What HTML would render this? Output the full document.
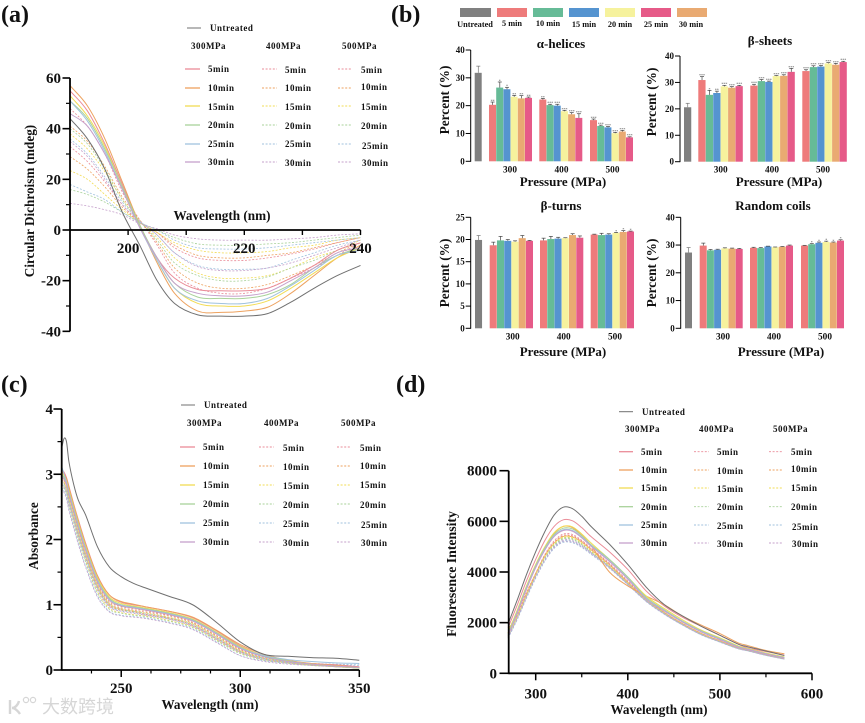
<!DOCTYPE html>
<html lang="en">
<head>
<meta charset="utf-8">
<title>Protein structure figure</title>
<style>
html,body{margin:0;padding:0;background:#fff;width:865px;height:723px;overflow:hidden}
svg{display:block;filter:blur(0.35px)}
text{font-family:"Liberation Serif","Noto Serif CJK SC",serif;font-weight:bold;fill:#111}
.lg{font-size:9px;letter-spacing:.5px}
.at{font-size:13.2px}
.pl{font-size:24px}
.sw{font-size:8.3px}
.ti{font-size:13px;text-anchor:middle}
.xt{font-size:13px;text-anchor:middle}
.yt{font-size:13.3px;text-anchor:middle}
</style>
</head>
<body>
<svg id="figure" xmlns="http://www.w3.org/2000/svg" width="865" height="723" viewBox="0 0 865 723">
<rect width="865" height="723" fill="#fff"/>
<g id="marks"></g>

<text class="pl" x="1" y="22">(a)</text>
<text class="pl" x="391" y="22">(b)</text>
<text class="pl" x="1" y="392">(c)</text>
<text class="pl" x="396" y="392">(d)</text>

<text class="at" text-anchor="middle" x="222" y="220">Wavelength (nm)</text>
<text class="at" text-anchor="middle" transform="translate(34,201) rotate(-90)">Circular Dichroism (mdeg)</text>

<g class="lg">
<text x="210" y="31">Untreated</text>
<text x="191" y="49">300MPa</text>
<text x="266" y="49">400MPa</text>
<text x="342" y="49">500MPa</text>
<text x="208" y="72">5min</text>
<text x="208" y="91">10min</text>
<text x="208" y="110">15min</text>
<text x="208" y="128">20min</text>
<text x="208" y="147">25min</text>
<text x="208" y="165">30min</text>
<text x="285" y="73">5min</text>
<text x="285" y="91">10min</text>
<text x="285" y="110">15min</text>
<text x="285" y="129">20min</text>
<text x="285" y="147">25min</text>
<text x="285" y="166">30min</text>
<text x="361" y="73">5min</text>
<text x="361" y="90">10min</text>
<text x="361" y="110">15min</text>
<text x="361" y="129">20min</text>
<text x="362" y="149">25min</text>
<text x="362" y="166">30min</text>
</g>

<g class="sw" text-anchor="middle">
<text x="475" y="27">Untreated</text>
<text x="512" y="26">5 min</text>
<text x="548" y="26">10 min</text>
<text x="584" y="27">15 min</text>
<text x="620" y="27">20 min</text>
<text x="656" y="27">25 min</text>
<text x="691" y="27">30 min</text>
</g>

<text class="ti" x="561" y="48">α-helices</text>
<text class="ti" x="770" y="45">β-sheets</text>
<text class="ti" x="561" y="210">β-turns</text>
<text class="ti" x="773" y="210">Random coils</text>

<text class="xt" x="563" y="186">Pressure (MPa)</text>
<text class="xt" x="779" y="186">Pressure (MPa)</text>
<text class="xt" x="563" y="356">Pressure (MPa)</text>
<text class="xt" x="781" y="356">Pressure (MPa)</text>
<text class="yt" transform="translate(449,100) rotate(-90)">Percent (%)</text>
<text class="yt" transform="translate(656,102) rotate(-90)">Percent (%)</text>
<text class="yt" transform="translate(449,273) rotate(-90)">Percent (%)</text>
<text class="yt" transform="translate(656,273) rotate(-90)">Percent (%)</text>

<text class="at" text-anchor="middle" x="210" y="709">Wavelength (nm)</text>
<text class="at" text-anchor="middle" transform="translate(38,536) rotate(-90)">Absorbance</text>

<g class="lg">
<text x="204" y="408">Untreated</text>
<text x="187" y="426">300MPa</text>
<text x="264" y="426">400MPa</text>
<text x="341" y="426">500MPa</text>
<text x="203" y="450">5min</text>
<text x="203" y="469">10min</text>
<text x="203" y="488">15min</text>
<text x="203" y="507">20min</text>
<text x="203" y="526">25min</text>
<text x="203" y="545">30min</text>
<text x="283" y="451">5min</text>
<text x="283" y="470">10min</text>
<text x="283" y="489">15min</text>
<text x="283" y="508">20min</text>
<text x="283" y="527">25min</text>
<text x="283" y="546">30min</text>
<text x="360" y="451">5min</text>
<text x="360" y="469">10min</text>
<text x="360" y="488">15min</text>
<text x="360" y="508">20min</text>
<text x="361" y="528">25min</text>
<text x="361" y="546">30min</text>
</g>

<text class="at" text-anchor="middle" x="659" y="714">Wavelength (nm)</text>
<text class="at" style="font-size:13.8px" text-anchor="middle" transform="translate(456,574) rotate(-90)">Fluoresence Intensity</text>

<g class="lg">
<text x="642" y="415">Untreated</text>
<text x="625" y="432">300MPa</text>
<text x="699" y="432">400MPa</text>
<text x="773" y="432">500MPa</text>
<text x="641" y="455">5min</text>
<text x="641" y="473">10min</text>
<text x="641" y="491">15min</text>
<text x="641" y="510">20min</text>
<text x="641" y="528">25min</text>
<text x="641" y="546">30min</text>
<text x="717" y="455">5min</text>
<text x="717" y="474">10min</text>
<text x="717" y="492">15min</text>
<text x="717" y="510">20min</text>
<text x="717" y="529">25min</text>
<text x="717" y="547">30min</text>
<text x="791" y="455">5min</text>
<text x="791" y="472">10min</text>
<text x="791" y="491">15min</text>
<text x="791" y="510">20min</text>
<text x="792" y="530">25min</text>
<text x="792" y="547">30min</text>
</g>

<g>
<path d="M10 700v14M12 708c3 0 6-3 7-7M13 708c3 1 5 3 7 6" fill="none" stroke="#d6d6d6" stroke-width="2.4"/>
<circle cx="26" cy="700" r="2.6" fill="none" stroke="#d6d6d6" stroke-width="1.2"/>
<circle cx="33" cy="700" r="2.6" fill="none" stroke="#d6d6d6" stroke-width="1.2"/>
<text x="42" y="713" font-size="18" style="fill:#d6d6d6;font-family:'Liberation Sans','Noto Sans CJK SC',sans-serif;font-weight:normal">大数跨境</text>
</g>
</svg>

<script>
/* ---------- Panel (a): circular dichroism ---------- */
const cdWavelengths=[190,193,196,199,202,205,208,212,216,220,224,228,232,236,240];
const cdUntreated=[44,36,24,7,-6,-20,-29,-33.5,-34,-34,-33,-28.5,-23,-18,-14];
const cd300=[
[55,47,34,18,2,-11,-19,-23.5,-24,-24,-23,-19,-14,-8,-5],
[57,49,36,19,2,-13,-25,-32,-32.5,-32,-30.5,-25,-18,-11,-6],
[53,45,33,17,2,-12,-23,-29,-30,-30,-28,-23,-17,-11,-7],
[51,44,32,17,2,-11,-21,-26.5,-27,-27,-25.5,-21.5,-15,-10,-7],
[51,43,31,16,1,-12,-23,-28,-29,-29,-27,-22,-16,-10,-8],
[46,41,30,16,1,-11,-21,-25,-26,-26,-24.5,-20,-15,-9,-7]];
const cd400=[
[48,41,30,15,4,-6,-17,-23,-25,-25,-23,-19,-15,-10,-5],
[41,35,25,13,4,-5,-15,-21,-23,-23,-21.5,-18,-14,-9,-5],
[38,32,23,12,3.5,-3,-11,-17,-19,-19,-18,-15,-11,-8,-4],
[40,34,24,12,3.5,-4,-13,-18,-20,-20,-18.5,-15,-12,-8,-5],
[36,30,21,11,3.5,-2,-9,-14,-15.5,-15.5,-15,-12,-9,-6,-4],
[35,29,20,10,3.5,-2,-9,-14.5,-16,-16,-15,-13,-10,-7,-4]];
const cd500=[
[33,27,19,10,3,-1,-7,-11,-12,-12,-11,-9.5,-7.5,-5,-3],
[29,24,17,9,3,-1,-6,-10,-11,-11,-10,-9,-7,-5,-3],
[23.5,20,14,8,3,-1,-5,-8,-9,-9,-8.5,-7,-6,-4,-3],
[16,14,11,7,3,0,-3,-5.5,-6,-6,-5.5,-5,-4,-3,-2],
[18,15,12,7,3,0,-4,-7,-7.5,-7.5,-7,-6,-5,-4,-3],
[10.5,9.5,8,6,2.5,0.5,-2,-3.5,-4,-4,-4,-3.5,-3,-2,-1.5]];
const cdYTicks=[60,40,20,0,-20,-40];
const cdYMinor=[50,30,10,-10,-30];
const cdXTicks=[200,210,220,230,240];
const cdXLabels=[200,220,240];

/* ---------- Panel (c): absorbance ---------- */
const absWavelengths=[225,226,227,228,230,232,235,240,245,250,255,260,270,280,290,300,310,320,330,340,350];
const absUntreated=[3.4,3.55,3.5,3.2,2.85,2.6,2.38,1.89,1.58,1.43,1.33,1.26,1.13,1.0,0.73,0.43,0.24,0.21,0.19,0.18,0.15];
const abs300=[
[3.08,3.03,2.95,2.82,2.55,2.3,1.95,1.45,1.15,1.04,1.0,0.97,0.9,0.8,0.6,0.37,0.22,0.14,0.1,0.08,0.05],
[3.05,3.0,2.93,2.8,2.53,2.28,1.93,1.44,1.15,1.05,1.01,0.97,0.9,0.81,0.61,0.39,0.24,0.15,0.1,0.07,0.04],
[3.02,2.98,2.9,2.76,2.5,2.25,1.9,1.41,1.12,1.02,0.98,0.95,0.88,0.78,0.58,0.36,0.22,0.14,0.09,0.06,0.03],
[3.0,2.95,2.88,2.74,2.48,2.23,1.88,1.39,1.1,1.0,0.97,0.94,0.87,0.77,0.57,0.35,0.21,0.14,0.09,0.06,0.03],
[3.12,3.0,2.88,2.72,2.46,2.2,1.86,1.37,1.08,0.99,0.96,0.93,0.86,0.76,0.56,0.34,0.22,0.16,0.13,0.11,0.1],
[2.98,2.92,2.85,2.7,2.44,2.18,1.84,1.35,1.07,0.98,0.95,0.92,0.85,0.75,0.55,0.33,0.2,0.13,0.09,0.06,0.04]];
const abs400=[
[2.95,2.9,2.82,2.66,2.4,2.14,1.8,1.31,1.03,0.95,0.92,0.89,0.83,0.72,0.52,0.31,0.19,0.12,0.08,0.06,0.04],
[2.97,2.92,2.83,2.68,2.42,2.16,1.82,1.33,1.05,0.97,0.94,0.91,0.84,0.73,0.53,0.32,0.2,0.13,0.09,0.06,0.03],
[2.93,2.88,2.8,2.64,2.38,2.12,1.78,1.3,1.02,0.94,0.91,0.88,0.81,0.71,0.51,0.3,0.18,0.12,0.08,0.05,0.03],
[2.9,2.85,2.77,2.62,2.35,2.1,1.76,1.28,1.01,0.93,0.9,0.87,0.8,0.7,0.5,0.29,0.18,0.12,0.08,0.05,0.03],
[2.88,2.82,2.74,2.58,2.32,2.06,1.73,1.25,0.98,0.91,0.88,0.85,0.78,0.68,0.48,0.27,0.17,0.12,0.09,0.08,0.07],
[2.85,2.8,2.72,2.56,2.3,2.04,1.71,1.23,0.97,0.9,0.87,0.84,0.78,0.67,0.47,0.27,0.16,0.11,0.07,0.05,0.03]];
const abs500=[
[2.92,2.87,2.78,2.62,2.36,2.1,1.76,1.28,1.0,0.93,0.9,0.86,0.8,0.69,0.49,0.29,0.17,0.12,0.08,0.06,0.04],
[2.9,2.85,2.76,2.6,2.34,2.08,1.74,1.26,0.99,0.92,0.89,0.85,0.79,0.68,0.48,0.28,0.17,0.11,0.08,0.05,0.03],
[2.86,2.8,2.72,2.55,2.28,2.02,1.68,1.2,0.95,0.88,0.85,0.83,0.76,0.66,0.46,0.26,0.15,0.11,0.08,0.05,0.03],
[2.84,2.78,2.7,2.53,2.26,2.0,1.66,1.18,0.93,0.87,0.84,0.82,0.75,0.65,0.45,0.25,0.15,0.1,0.07,0.05,0.03],
[2.8,2.74,2.65,2.48,2.2,1.94,1.6,1.14,0.9,0.84,0.82,0.8,0.73,0.63,0.43,0.22,0.14,0.11,0.1,0.09,0.08],
[2.78,2.72,2.62,2.45,2.18,1.92,1.58,1.12,0.89,0.83,0.81,0.79,0.72,0.62,0.42,0.22,0.13,0.09,0.07,0.05,0.03]];
const absYTicks=[0,1,2,3,4];
const absYMinor=[0.5,1.5,2.5,3.5];
const absXTicks=[250,300,350];
const absXMinor=[237.5,262.5,275,287.5,312.5,325,337.5];

/* ---------- Panel (d): fluorescence ---------- */
const fluWavelengths=[270,280,290,300,310,320,330,340,350,360,380,400,420,440,460,480,500,520,530,550,570];
const fluUntreated=[1950,2900,3900,4800,5600,6250,6560,6500,6200,5800,5100,4300,3400,2700,2250,1850,1500,1150,1050,880,700];
const flu300=[
[1800,2700,3650,4500,5250,5800,6060,6020,5750,5400,4800,4100,3250,2650,2200,1850,1500,1150,1000,860,720],
[1500,2400,3350,4200,4950,5520,5800,5750,5450,5050,4000,3450,3050,2700,2250,1900,1570,1200,1100,900,770],
[1600,2500,3450,4300,5000,5550,5800,5780,5500,5150,4500,3800,3050,2550,2100,1700,1400,1080,980,800,650],
[1550,2450,3400,4250,4950,5480,5730,5700,5430,5080,4500,3800,3000,2500,2050,1670,1370,1060,960,780,630],
[1500,2400,3350,4200,4900,5430,5670,5640,5380,5050,4450,3750,2950,2470,2030,1650,1350,1040,950,770,620],
[1480,2380,3320,4170,4870,5400,5640,5610,5350,5020,4420,3720,2930,2450,2010,1630,1330,1030,940,760,610]];
const flu400=[
[1600,2300,3150,3950,4700,5230,5500,5480,5250,4950,4350,3650,2950,2400,1950,1570,1280,1000,920,740,590],
[1700,2400,3200,3950,4650,5150,5420,5400,5200,4900,4300,3600,2920,2400,1960,1580,1290,1010,930,750,600],
[1500,2250,3100,3900,4620,5120,5380,5360,5150,4850,4250,3580,2900,2380,1940,1560,1270,990,910,730,580],
[1450,2200,3050,3850,4560,5070,5330,5310,5100,4800,4220,3550,2880,2360,1920,1540,1250,980,900,720,570],
[1400,2150,3000,3800,4480,4980,5230,5210,5020,4750,4180,3520,2850,2330,1900,1520,1240,970,890,710,560],
[1420,2170,3020,3820,4500,5000,5260,5240,5050,4770,4200,3530,2860,2340,1910,1530,1250,975,895,715,565]];
const flu500=[
[1550,2280,3120,3920,4660,5180,5450,5430,5220,4920,4320,3620,2930,2390,1940,1560,1270,990,910,730,580],
[1600,2320,3160,3940,4640,5140,5400,5380,5180,4880,4280,3590,2910,2385,1945,1565,1275,1000,920,740,590],
[1480,2230,3080,3880,4590,5100,5360,5340,5130,4830,4240,3570,2890,2370,1930,1550,1260,985,905,725,575],
[1430,2180,3030,3830,4530,5040,5300,5280,5080,4780,4210,3540,2870,2350,1910,1530,1245,975,895,715,565],
[1380,2120,2960,3750,4430,4930,5170,5150,4970,4700,4150,3500,2830,2320,1890,1510,1230,965,885,705,555],
[1400,2140,2990,3780,4460,4960,5200,5180,5000,4730,4170,3510,2840,2330,1900,1520,1235,970,890,710,560]];
const fluYTicks=[0,2000,4000,6000,8000];
const fluXTicks=[300,400,500,600];
const fluXMinor=[350,450,550];

/* ---------- Panel (b): grouped bars ---------- */
const pressureLabels=[300,400,500];
const legendNames=['untreated','5-min','10-min','15-min','20-min','25-min','30-min'];
const alphaUntreated=[31.8];
const alphaUntreatedErr=[2.4];
const alphaValues=[[20.3,26.5,25.9,23.2,22.6,22.8],[22.2,20.2,20,18,16.9,15.6],[14.8,12.7,12.2,10.1,10.7,8.6]];
const alphaErrors=[[1,2,0.7,0.5,1,0.3],[0.4,0.3,0.5,0.3,0.6,1.5],[0.4,0.3,0.3,0.3,0.4,0.2]];
const alphaStars=[['**','*','*','**','**','**'],['**','***','***','***','***','***'],['***','***','***','***','***','***']];
const alphaTicks=[0,10,20,30,40];
const sheetUntreated=[20.6];
const sheetUntreatedErr=[1.5];
const sheetValues=[[30.9,25.3,26,28.5,28,28.6],[28.8,30.5,30.2,32.4,32.5,34],[34.3,35.8,36,37.2,36.7,37.7]];
const sheetErrors=[[1.3,1.7,0.7,0.4,0.4,0.3],[0.5,0.6,0.3,0.2,0.4,1.3],[0.5,0.5,0.4,0.3,0.5,0.3]];
const sheetStars=[['***','*','**','***','***','***'],['***','***','***','***','***','***'],['***','***','***','***','***','***']];
const sheetTicks=[0,10,20,30,40];
const turnUntreated=[19.9];
const turnUntreatedErr=[1];
const turnValues=[[18.7,19.8,19.7,19.5,20.3,19.7],[19.8,20.1,20.2,20.3,21,20.4],[21.1,21,21.1,21.5,21.7,21.8]];
const turnErrors=[[0.7,0.9,0.3,0.2,0.6,0.1],[0.5,0.6,0.3,0.1,0.3,0.4],[0.1,0.4,0.2,0.1,0.3,0.1]];
const turnStars=[['','','','','',''],['','','','','',''],['','','','*','*','*']];
const turnTicks=[0,5,10,15,20,25];
const coilUntreated=[27.3];
const coilUntreatedErr=[1.8];
const coilValues=[[29.8,28.1,28.3,28.8,28.7,28.6],[29,28.9,29.5,29.2,29.4,29.8],[29.8,30.3,30.8,31.1,30.9,31.6]];
const coilErrors=[[0.9,0.3,0.2,0.2,0.2,0.2],[0.2,0.2,0.1,0.1,0.1,0.2],[0.1,0.2,0.3,0.3,0.2,0.3]];
const coilStars=[['','','','','',''],['','','','','',''],['','*','*','*','*','*']];
const coilTicks=[0,10,20,30,40];

/* ---------- Styling and drawing ---------- */
const lineColors=['#ea8c98','#eda25f','#f2dc55','#a9d29a','#a0c2de','#c5a0cb'];
const untreatedColor='#707070';
const swatchColors=['#808080','#ee7b7b','#66bb97','#5594d0','#f6f29d','#e65a88','#e9aa72'];
const barColors=['#ee7b7b','#66bb97','#5594d0','#f6f29d','#e9aa72','#e65a88'];
const NS='http://www.w3.org/2000/svg';
const root=document.getElementById('marks');

function scale(d0,d1,r0,r1){return v=>r0+(v-d0)*(r1-r0)/(d1-d0);}
function make(tag,attrs,parent){
  const e=document.createElementNS(NS,tag);
  for(const k in attrs)e.setAttribute(k,attrs[k]);
  (parent||root).appendChild(e);
  return e;
}
function rule(x1,y1,x2,y2,w,name,parent){
  const e=make('line',{x1,y1,x2,y2,stroke:'#000','stroke-width':w},parent);
  
  
  return e;
}
function label(x,y,txt,size,anchor,name){
  const e=make('text',{x,y,'font-size':size,'text-anchor':anchor});
  e.textContent=txt;
  
  
  return e;
}
function smoothPath(xs,ys){
  const n=xs.length,m=[];
  m[0]=(ys[1]-ys[0])/(xs[1]-xs[0]);
  m[n-1]=(ys[n-1]-ys[n-2])/(xs[n-1]-xs[n-2]);
  for(let i=1;i<n-1;i++)m[i]=(ys[i+1]-ys[i-1])/(xs[i+1]-xs[i-1]);
  let p='M'+xs[0].toFixed(2)+' '+ys[0].toFixed(2);
  for(let i=0;i<n-1;i++){
    const h=(xs[i+1]-xs[i])/3;
    p+='C'+(xs[i]+h).toFixed(2)+' '+(ys[i]+m[i]*h).toFixed(2)+' '+(xs[i+1]-h).toFixed(2)+' '+(ys[i+1]-m[i+1]*h).toFixed(2)+' '+xs[i+1].toFixed(2)+' '+ys[i+1].toFixed(2);
  }
  return p;
}
function series(prefix,sx,sy,wl,vals,color,dash,name){
  const e=make('path',{d:smoothPath(wl.map(sx),vals.map(sy)),fill:'none',stroke:color,'stroke-width':dash?0.8:1});
  if(dash)e.setAttribute('stroke-dasharray',dash);
  
  
}
const minutes=['5min','10min','15min','20min','25min','30min'];
function lineSet(prefix,sx,sy,wl,untreated,s300,s400,s500){
  s500.forEach((v,i)=>series(prefix,sx,sy,wl,v,lineColors[i],'2 1.6','500mpa-'+minutes[i]));
  s400.forEach((v,i)=>series(prefix,sx,sy,wl,v,lineColors[i],'2 1.6','400mpa-'+minutes[i]));
  s300.forEach((v,i)=>series(prefix,sx,sy,wl,v,lineColors[i],null,'300mpa-'+minutes[i]));
  series(prefix,sx,sy,wl,untreated,untreatedColor,null,'untreated');
}
function legendLines(prefix,untreatedSeg,rows,cols){
  const u=make('line',{x1:untreatedSeg[0],x2:untreatedSeg[1],y1:untreatedSeg[2],y2:untreatedSeg[2],stroke:untreatedColor,'stroke-width':1});
  
  
  cols.forEach((c,ci)=>{
    rows.forEach((y,ri)=>{
      const s=make('line',{x1:c[0],x2:c[1],y1:y,y2:y,stroke:lineColors[ri],'stroke-width':ci?0.9:1.3});
      if(ci)s.setAttribute('stroke-dasharray','2 1.6');
      
      
    });
  });
}

/* Panel a */
(function(){
  const sx=scale(190,240,70,360.5),sy=scale(0,60,230,78);
  lineSet('a',sx,sy,cdWavelengths,cdUntreated,cd300,cd400,cd500);
  rule(70,sy(60),70,sy(-40),1.8,'a-y-axis');
  rule(70,sy(0),sx(240),sy(0),1.8,'a-x-axis');
  cdYTicks.forEach(v=>{rule(62.5,sy(v),70,sy(v),1.6,'a-y-tick');label(61,sy(v)+5,String(v),15,'end','a-y-tick-label');});
  cdYMinor.forEach(v=>rule(66,sy(v),70,sy(v),1.2,'a-y-minor-tick'));
  cdXTicks.forEach(v=>rule(sx(v),sy(0),sx(v),sy(0)+5,1.4,'a-x-tick'));
  cdXLabels.forEach(v=>label(sx(v),sy(0)+23,String(v),15,'middle','a-x-tick-label'));
  legendLines('a',[187,201,28],[69,88,106,125,144,162],[[185,200],[262,277],[338,352]]);
})();

/* Panel c */
(function(){
  const sx=scale(225,350,61.7,359.3),sy=scale(0,4,670,409);
  lineSet('c',sx,sy,absWavelengths,absUntreated,abs300,abs400,abs500);
  rule(61.7,sy(4),61.7,sy(0)+.8,1.8,'c-y-axis');
  rule(61.7,sy(0),sx(350),sy(0),1.8,'c-x-axis');
  absYTicks.forEach(v=>{rule(53.5,sy(v),61.7,sy(v),1.6,'c-y-tick');label(53,sy(v)+5,String(v),15,'end','c-y-tick-label');});
  absYMinor.forEach(v=>rule(57.5,sy(v),61.7,sy(v),1.2,'c-y-minor-tick'));
  absXTicks.forEach(v=>{rule(sx(v),sy(0),sx(v),sy(0)+7,1.5,'c-x-tick');label(sx(v),sy(0)+23,String(v),15,'middle','c-x-tick-label');});
  absXMinor.forEach(v=>rule(sx(v),sy(0),sx(v),sy(0)+3.5,1.2,'c-x-minor-tick'));
  legendLines('c',[181,195,405],[447,466,485,504,523,542],[[180,195],[259,274],[337,351]]);
})();

/* Panel d */
(function(){
  const sx=scale(300,600,535.7,812),sy=scale(0,8000,673.3,470.7);
  lineSet('d',sx,sy,fluWavelengths,fluUntreated,flu300,flu400,flu500);
  rule(508.7,sy(8000),508.7,sy(0)+.8,1.8,'d-y-axis');
  rule(508.7,sy(0),sx(600),sy(0),1.8,'d-x-axis');
  fluYTicks.forEach(v=>{rule(499.5,sy(v),508.7,sy(v),1.6,'d-y-tick');label(497,sy(v)+5,String(v),15,'end','d-y-tick-label');});
  fluXTicks.forEach(v=>{rule(sx(v),sy(0),sx(v),sy(0)+7,1.5,'d-x-tick');label(sx(v),sy(0)+25,String(v),15,'middle','d-x-tick-label');});
  fluXMinor.forEach(v=>rule(sx(v),sy(0),sx(v),sy(0)+4,1.2,'d-x-minor-tick'));
  legendLines('d',[619,633,411.7],[451.7,470,488,506.7,525,543],[[619,633],[694,709],[769,782]]);
})();

/* Panel b legend swatches */
legendNames.forEach((n,i)=>{
  const left=i===0?460:497+(i-1)*36;
  const r=make('rect',{x:left,y:8,width:i===0?31:30,height:9,fill:swatchColors[i]});
  
  
});

/* Panel b bars */
function barChart(cfg){
  const sy=scale(cfg.max,0,cfg.top,cfg.base);
  const p=cfg.prefix;
  function bar(x,v,err,color,star,dark,name){
    const b=make('rect',{x:x,y:sy(v),width:cfg.bw-0.2,height:cfg.base-sy(v),fill:color});
    
    
    const cx=x+cfg.bw/2,top=sy(v+err);
    const e1=make('line',{x1:cx,x2:cx,y1:sy(v),y2:top,stroke:dark,'stroke-width':0.7});
    
    
    const e2=make('line',{x1:cx-2,x2:cx+2,y1:top,y2:top,stroke:dark,'stroke-width':0.7});
    
    
    if(star){
      const s=make('text',{x:cx,y:top+0.4,'font-size':4,'text-anchor':'middle',style:'fill:#555;font-weight:normal'});
      s.textContent=star;
      
      
    }
  }
  bar(cfg.greyX,cfg.untreated[0],cfg.untreatedErr[0],'#808080','', '#777','untreated');
  cfg.values.forEach((grp,g)=>{
    grp.forEach((v,i)=>bar(cfg.groupX[g]+i*cfg.bw,v,cfg.errors[g][i],barColors[i],cfg.stars[g][i],'#444',pressureLabels[g]+'-'+i));
    label(cfg.labelX[g],cfg.base+11,String(pressureLabels[g]),9.3,'middle',p+'-x-tick-label');
  });
  rule(cfg.axisX,sy(cfg.max),cfg.axisX,cfg.base+.4,1,p+'-y-axis');
  cfg.ticks.forEach(v=>{
    rule(cfg.axisX-5,sy(v),cfg.axisX,sy(v),1,p+'-y-tick');
    label(cfg.axisX-6,sy(v)+3,String(v),9,'end',p+'-y-tick-label');
  });
}
barChart({prefix:'alpha',max:40,top:50,base:161.3,axisX:470.7,greyX:474.7,bw:7.2,groupX:[489,539.3,590],labelX:[510,561.5,612.5],untreated:alphaUntreated,untreatedErr:alphaUntreatedErr,values:alphaValues,errors:alphaErrors,stars:alphaStars,ticks:alphaTicks});
barChart({prefix:'sheets',max:40,top:56,base:161.7,axisX:680,greyX:684,bw:7.45,groupX:[698.3,750.3,802.3],labelX:[720.7,772,823],untreated:sheetUntreated,untreatedErr:sheetUntreatedErr,values:sheetValues,errors:sheetErrors,stars:sheetStars,ticks:sheetTicks});
barChart({prefix:'turns',max:25,top:217.3,base:328.3,axisX:470.7,greyX:475,bw:7.25,groupX:[489.7,540,590.7],labelX:[512.7,563.7,615],untreated:turnUntreated,untreatedErr:turnUntreatedErr,values:turnValues,errors:turnErrors,stars:turnStars,ticks:turnTicks});
barChart({prefix:'coils',max:40,top:217.3,base:328.3,axisX:680.7,greyX:685,bw:7.2,groupX:[699.7,750,801],labelX:[723,774,825],untreated:coilUntreated,untreatedErr:coilUntreatedErr,values:coilValues,errors:coilErrors,stars:coilStars,ticks:coilTicks});
</script>
</body>
</html>
